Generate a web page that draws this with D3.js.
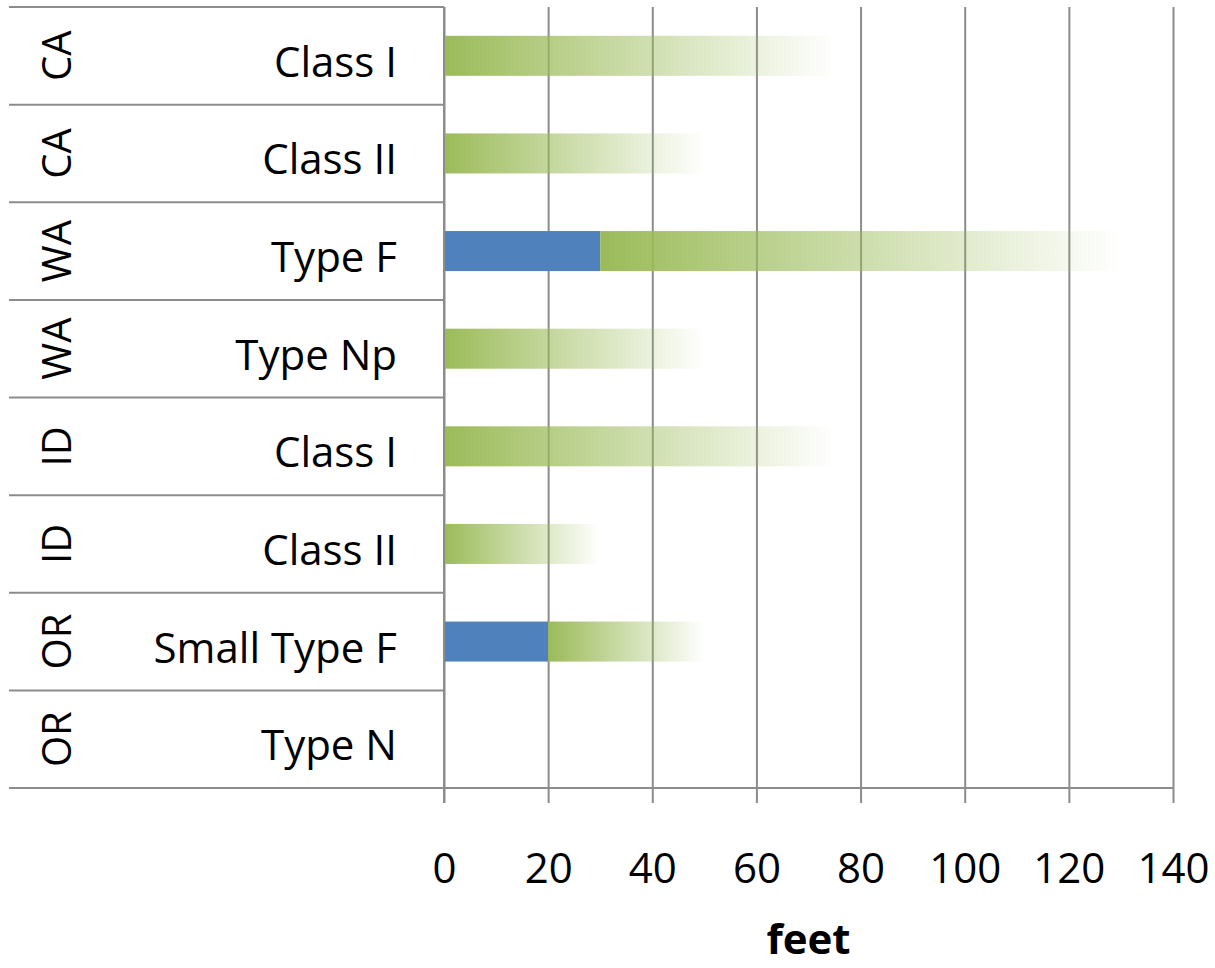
<!DOCTYPE html>
<html>
<head>
<meta charset="utf-8">
<script src="https://cdn.jsdelivr.net/npm/d3@7/dist/d3.min.js"></script>
<style>
  html, body { margin: 0; padding: 0; background: #fff; }
  svg { display: block; }
  text { font-family: "Open Sans", "Noto Sans", sans-serif; fill: #000; }
</style>
</head>
<body>
<svg id="chart" width="1215" height="968"></svg>
<script>
// Riparian buffer widths by state and stream class
const states = ["CA", "CA", "WA", "WA", "ID", "ID", "OR", "OR"];
const classes = ["Class I", "Class II", "Type F", "Type Np", "Class I", "Class II", "Small Type F", "Type N"];
// inner (no-harvest) zone width, feet
const innerZone = [0, 0, 30, 0, 0, 0, 20, 0];
// outer (managed) zone width, feet
const outerZone = [75, 50, 100, 50, 75, 30, 30, 0];
const xTicks = [0, 20, 40, 60, 80, 100, 120, 140];
const xTitle = "feet";

const svg = d3.select("#chart");
const plotL = 444, plotR = 1173, plotT = 7, plotB = 788;
const labelLeft = 9;
const gridColor = "#8c8c8c";

const x = d3.scaleLinear().domain([0, 140]).range([plotL, plotR]);
const y = d3.scaleBand().domain(d3.range(classes.length)).range([plotT, plotB]).paddingInner(0).paddingOuter(0);
const barH = y.bandwidth() * 0.41;

const defs = svg.append("defs");
const grad = defs.append("linearGradient").attr("id", "fade")
  .attr("x1", "0%").attr("x2", "100%").attr("y1", "0%").attr("y2", "0%");
grad.append("stop").attr("offset", "0%").attr("stop-color", "#9bbb59").attr("stop-opacity", 1);
grad.append("stop").attr("offset", "100%").attr("stop-color", "#9bbb59").attr("stop-opacity", 0);

// vertical gridlines with ticks below the axis
const xAxis = d3.axisBottom(x).tickValues(xTicks).tickSize(plotB - plotT + 15).tickFormat(d => d);
const gx = svg.append("g").attr("transform", `translate(0,${plotT})`).call(xAxis);
gx.select(".domain").remove();
gx.selectAll(".tick line").attr("stroke", gridColor).attr("stroke-width", 2);
gx.selectAll(".tick text")
  .attr("y", 0).attr("dy", 0)
  .attr("transform", `translate(0,${883 - plotT})`)
  .attr("fill", "#000")
  .style("font-size", "42px").style("font-family", "'Open Sans', sans-serif");

// row separators across the category columns
const seps = d3.range(classes.length + 1).map(i => i < classes.length ? y(i) : plotB);
svg.append("g").selectAll("line").data(seps).join("line")
  .attr("x1", labelLeft).attr("x2", plotL)
  .attr("y1", d => d).attr("y2", d => d)
  .attr("stroke", gridColor).attr("stroke-width", 2);

// axis baseline
svg.append("line").attr("x1", plotL).attr("x2", plotR).attr("y1", plotB).attr("y2", plotB)
  .attr("stroke", gridColor).attr("stroke-width", 2);

// bars
const rows = classes.map((c, i) => ({ i, inner: innerZone[i], outer: outerZone[i] }));
const g = svg.append("g");
g.selectAll("rect.inner").data(rows.filter(d => d.inner > 0)).join("rect")
  .attr("class", "inner")
  .attr("x", d => x(0)).attr("width", d => x(d.inner) - x(0))
  .attr("y", d => y(d.i) + (y.bandwidth() - barH) / 2).attr("height", barH)
  .attr("fill", "#4f81bd");
g.selectAll("rect.outer").data(rows.filter(d => d.outer > 0)).join("rect")
  .attr("class", "outer")
  .attr("x", d => x(d.inner)).attr("width", d => x(d.inner + d.outer) - x(d.inner))
  .attr("y", d => y(d.i) + (y.bandwidth() - barH) / 2).attr("height", barH)
  .attr("fill", "url(#fade)");

// category labels
svg.append("g").selectAll("text").data(classes).join("text")
  .attr("x", 397).attr("y", (d, i) => y(i) + y.bandwidth() / 2 + 21)
  .attr("text-anchor", "end")
  .style("font-size", "42px").text(d => d);

svg.append("g").selectAll("text").data(states).join("text")
  .attr("transform", (d, i) => `translate(71,${y(i) + y.bandwidth() / 2}) rotate(-90)`)
  .attr("text-anchor", "middle")
  .style("font-size", "40px").text(d => d);

// vertical axis line at zero
svg.append("line").attr("x1", plotL).attr("x2", plotL).attr("y1", plotT).attr("y2", plotB + 15)
  .attr("stroke", gridColor).attr("stroke-width", 2);

svg.append("text").attr("x", (plotL + plotR) / 2).attr("y", 954)
  .attr("text-anchor", "middle").style("font-size", "42px").style("font-weight", "bold")
  .text(xTitle);
</script>
</body>
</html>
